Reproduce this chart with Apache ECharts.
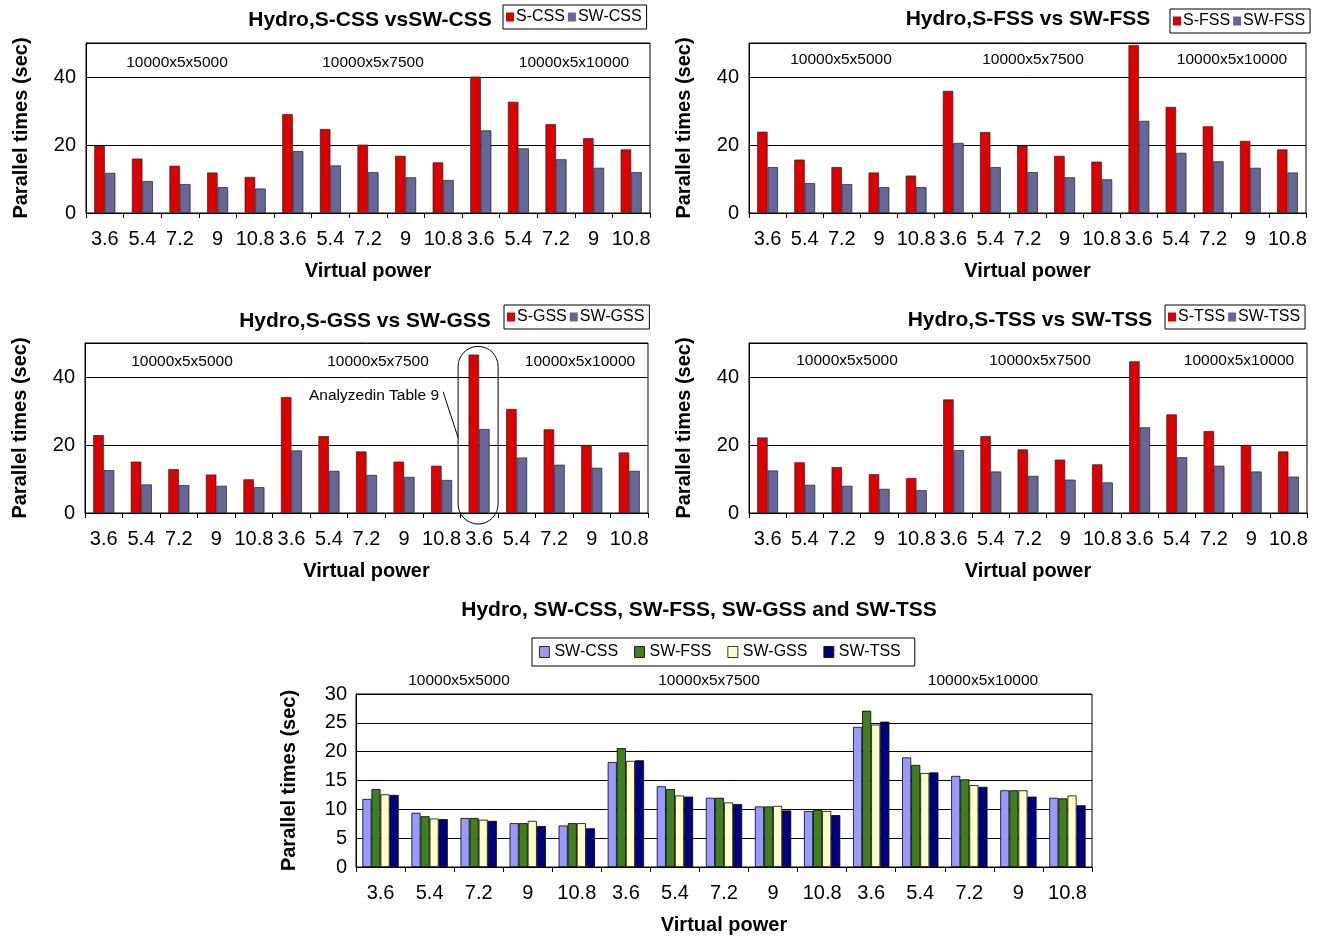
<!DOCTYPE html>
<html>
<head>
<meta charset="utf-8">
<script src="https://cdn.jsdelivr.net/npm/echarts@6/dist/echarts.min.js"></script>
<style>
  html, body { margin: 0; background: #fff; }
  #chart { width: 1329px; height: 939px; }
</style>
</head>
<body>
<div id="chart"></div>
<script>
// virtual power per category, three problem sizes of five each
const powers = ['3.6', '5.4', '7.2', '9', '10.8', '3.6', '5.4', '7.2', '9', '10.8', '3.6', '5.4', '7.2', '9', '10.8'];
const sizes = ['10000x5x5000', '10000x5x7500', '10000x5x10000'];

// parallel times (sec)
const sCss = [19.8, 16.0, 13.9, 11.9, 10.6, 29.1, 24.7, 20.1, 16.8, 14.9, 40.1, 32.7, 26.1, 22.0, 18.7];
const swCss = [11.8, 9.4, 8.5, 7.6, 7.2, 18.2, 14.0, 12.0, 10.5, 9.7, 24.3, 19.0, 15.8, 13.3, 12.0];
const sFss = [23.9, 15.7, 13.5, 11.9, 11.0, 35.9, 23.8, 19.8, 16.8, 15.1, 49.4, 31.2, 25.5, 21.2, 18.7];
const swFss = [13.5, 8.8, 8.5, 7.6, 7.6, 20.6, 13.5, 12.0, 10.5, 9.9, 27.1, 17.7, 15.2, 13.3, 11.9];
const sGss = [22.9, 15.1, 12.9, 11.3, 9.9, 34.1, 22.6, 18.1, 15.1, 13.9, 46.6, 30.6, 24.6, 20.0, 17.8];
const swGss = [12.6, 8.4, 8.2, 8.0, 7.6, 18.4, 12.4, 11.2, 10.6, 9.7, 24.7, 16.3, 14.2, 13.3, 12.4];
const sTss = [22.2, 14.9, 13.5, 11.4, 10.3, 33.4, 22.6, 18.7, 15.7, 14.3, 44.6, 29.0, 24.1, 20.0, 18.1];
const swTss = [12.5, 8.3, 8.0, 7.1, 6.7, 18.5, 12.2, 10.9, 9.8, 9.0, 25.2, 16.4, 13.9, 12.2, 10.7];

const FONT = '"Liberation Sans", Arial, sans-serif';
const RED = '#dd0000';
const SLATE = '#666699';

const panels = [
  { title: 'Hydro,S-CSS vsSW-CSS', names: ['S-CSS', 'SW-CSS'], data: [sCss, swCss],
    grid: { left: 86, top: 43, width: 564, height: 170 }, titleAt: [370, 22], legendAt: [503, 5],
    sizeAt: [[177, 63], [373, 63], [574, 63]] },
  { title: 'Hydro,S-FSS vs SW-FSS', names: ['S-FSS', 'SW-FSS'], data: [sFss, swFss],
    grid: { left: 749, top: 43, width: 557, height: 170 }, titleAt: [1028, 21], legendAt: [1170, 9],
    sizeAt: [[841, 60], [1033, 60], [1232, 60]] },
  { title: 'Hydro,S-GSS vs SW-GSS', names: ['S-GSS', 'SW-GSS'], data: [sGss, swGss],
    grid: { left: 85, top: 343, width: 563, height: 170 }, titleAt: [365, 323], legendAt: [504, 305],
    sizeAt: [[182, 362], [378, 362], [580, 362]] },
  { title: 'Hydro,S-TSS vs SW-TSS', names: ['S-TSS', 'SW-TSS'], data: [sTss, swTss],
    grid: { left: 749, top: 343, width: 558, height: 170 }, titleAt: [1030, 322], legendAt: [1165, 305],
    sizeAt: [[847, 361], [1040, 361], [1239, 361]] }
];

const allNames = ['SW-CSS', 'SW-FSS', 'SW-GSS', 'SW-TSS'];
const allData = [swCss, swFss, swGss, swTss];
const allColors = ['#9999ff', '#3f7f1f', '#ffffcc', '#000080'];

function xAxisFor(i) {
  return {
    type: 'category', gridIndex: i, data: powers,
    axisLine: { lineStyle: { color: '#000', width: 1 } },
    axisTick: { show: true, interval: 0, length: 5, lineStyle: { color: '#000' } },
    axisLabel: { interval: 0, color: '#000', fontSize: 20, margin: 16, fontFamily: FONT },
    name: 'Virtual power', nameLocation: 'middle', nameGap: 48,
    nameTextStyle: { color: '#000', fontSize: 20, fontWeight: 'bold', fontFamily: FONT }
  };
}

function yAxisFor(i, max, interval, gap) {
  return {
    type: 'value', gridIndex: i, min: 0, max: max, interval: interval,
    axisLine: { show: true, lineStyle: { color: '#000' } },
    axisTick: { show: false },
    axisLabel: { color: '#000', fontSize: 20, margin: 10, fontFamily: FONT, showMaxLabel: max % interval === 0 },
    splitLine: { lineStyle: { color: '#000', width: 1 } },
    name: 'Parallel times (sec)', nameLocation: 'middle', nameGap: gap,
    nameTextStyle: { color: '#000', fontSize: 20, fontWeight: 'bold', fontFamily: FONT }
  };
}

const grid = [], xAxis = [], yAxis = [], series = [], title = [], legend = [], labels = [];

panels.forEach((p, i) => {
  grid.push(Object.assign({ show: true, borderColor: '#000', borderWidth: 1 }, p.grid));
  xAxis.push(xAxisFor(i));
  yAxis.push(yAxisFor(i, 50, 20, 55));
  [RED, SLATE].forEach((color, k) => {
    series.push({
      type: 'bar', name: p.names[k], xAxisIndex: i, yAxisIndex: i,
      data: p.data[k], barGap: '0%', barCategoryGap: '44%',
      itemStyle: { color: color, borderColor: '#222', borderWidth: 0.7 }
    });
  });
  title.push({
    text: p.title, left: p.titleAt[0], top: p.titleAt[1] - 12, textAlign: 'center', padding: 0,
    textStyle: { fontSize: 21, fontWeight: 'bold', color: '#000', fontFamily: FONT }
  });
  legend.push({
    left: p.legendAt[0], top: p.legendAt[1], padding: [4, 5, 4, 3], itemGap: 3,
    itemWidth: 8, itemHeight: 9, borderColor: '#000', borderWidth: 1, icon: 'rect',
    data: p.names.map((n, k) => ({ name: n, itemStyle: { color: k ? SLATE : RED, borderWidth: 0 } })),
    textStyle: { fontSize: 16, color: '#000', fontFamily: FONT, padding: [0, 0, 0, -3] }
  });
  sizes.forEach((s, k) => labels.push({ type: 'text', x: p.sizeAt[k][0], y: p.sizeAt[k][1],
    style: { text: s, font: '15.5px ' + FONT, fill: '#000', align: 'center', verticalAlign: 'middle' } }));
});

// combined SW comparison
grid.push({ show: true, borderColor: '#000', borderWidth: 1, left: 356, top: 694, width: 736, height: 173 });
xAxis.push(xAxisFor(4));
yAxis.push(yAxisFor(4, 30, 5, 57));
yAxis[4].axisLabel.margin = 9;
allNames.forEach((n, k) => {
  series.push({
    type: 'bar', name: n, xAxisIndex: 4, yAxisIndex: 4, data: allData[k],
    barGap: '0%', barCategoryGap: '26%',
    itemStyle: { color: allColors[k], borderColor: '#000', borderWidth: 0.8 }
  });
});
title.push({
  text: 'Hydro, SW-CSS, SW-FSS, SW-GSS and SW-TSS', left: 699, top: 600, textAlign: 'center', padding: 0,
  textStyle: { fontSize: 21, fontWeight: 'bold', color: '#000', fontFamily: FONT }
});
legend.push({
  left: 532, top: 638, width: 400, padding: [6, 14, 6, 7], itemGap: 16,
  itemWidth: 10, itemHeight: 11, borderColor: '#000', borderWidth: 1, icon: 'rect',
  data: allNames.map((n, k) => ({ name: n, itemStyle: { color: allColors[k], borderColor: '#000', borderWidth: 0.8 } })),
  textStyle: { fontSize: 16, color: '#000', fontFamily: FONT }
});
[[459, 681], [709, 681], [983, 681]].forEach((pos, k) => labels.push({ type: 'text', x: pos[0], y: pos[1],
  style: { text: sizes[k], font: '15.5px ' + FONT, fill: '#000', align: 'center', verticalAlign: 'middle' } }));

const chart = echarts.init(document.getElementById('chart'));
chart.setOption({
  animation: false,
  backgroundColor: '#fff',
  textStyle: { fontFamily: FONT },
  grid, xAxis, yAxis, series, title, legend
});

// callout around the 10000x5x10000 / 3.6 pair of the S-GSS panel
const ringTop = chart.convertToPixel({ xAxisIndex: 2, yAxisIndex: 2 }, [10, 49]);
const ringBase = chart.convertToPixel({ xAxisIndex: 2, yAxisIndex: 2 }, [10, 0]);
const ringW = 40, ringBottom = ringBase[1] + 11;
const noteAt = chart.convertToPixel({ xAxisIndex: 2, yAxisIndex: 2 }, [10, 34.5]);
labels.push({
  type: 'rect', shape: { x: ringTop[0] - ringW / 2 - 1, y: ringTop[1], width: ringW, height: ringBottom - ringTop[1], r: 20 },
  style: { fill: 'none', stroke: '#000', lineWidth: 1 }
});
labels.push({
  type: 'text', x: noteAt[0] - 40, y: noteAt[1],
  style: { text: 'Analyzedin Table 9', font: '15.5px ' + FONT, fill: '#000', align: 'right', verticalAlign: 'middle' }
});
labels.push({
  type: 'line', shape: { x1: ringTop[0] - 36, y1: noteAt[1] - 4, x2: ringTop[0] - ringW / 2 - 1, y2: noteAt[1] + 42 },
  style: { stroke: '#000', lineWidth: 1 }
});
chart.setOption({ graphic: labels });
</script>
</body>
</html>
